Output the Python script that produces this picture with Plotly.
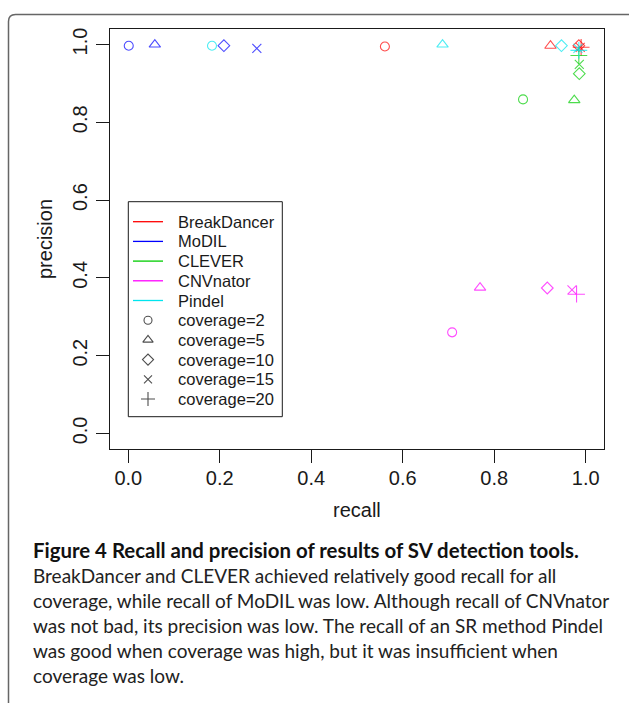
import plotly.graph_objects as go

# Precision/recall of five SV callers at five sequencing coverages
coverage = [2, 5, 10, 15, 20]
coverage_labels = ["coverage=2", "coverage=5", "coverage=10", "coverage=15", "coverage=20"]
tools = ["BreakDancer", "MoDIL", "CLEVER", "CNVnator", "Pindel"]

recall_breakdancer = [0.561, 0.923, 0.985, 0.988, 0.990]
precision_breakdancer = [0.995, 0.997, 0.997, 0.993, 0.993]

recall_modil = [0.001, 0.058, 0.209, 0.281, None]
precision_modil = [0.997, 1.000, 0.997, 0.990, None]

recall_clever = [0.863, 0.975, 0.986, 0.986, 0.985]
precision_clever = [0.859, 0.857, 0.925, 0.949, 0.972]

recall_cnvnator = [0.708, 0.769, 0.916, 0.970, 0.980]
precision_cnvnator = [0.260, 0.375, 0.374, 0.369, 0.358]

recall_pindel = [0.183, 0.687, 0.947, 0.983, 0.985]
precision_pindel = [0.997, 1.000, 0.997, 0.990, 0.985]

x_ticks = [0.0, 0.2, 0.4, 0.6, 0.8, 1.0]
y_ticks = [0.0, 0.2, 0.4, 0.6, 0.8, 1.0]
tick_text = ["0.0", "0.2", "0.4", "0.6", "0.8", "1.0"]

caption_title = "Figure 4 Recall and precision of results of SV detection tools."
caption_lines = [
    "BreakDancer and CLEVER achieved relatively good recall for all",
    "coverage, while recall of MoDIL was low. Although recall of CNVnator",
    "was not bad, its precision was low. The recall of an SR method Pindel",
    "was good when coverage was high, but it was insufficient when",
    "coverage was low.",
]

series = [
    (recall_breakdancer, precision_breakdancer),
    (recall_modil, precision_modil),
    (recall_clever, precision_clever),
    (recall_cnvnator, precision_cnvnator),
    (recall_pindel, precision_pindel),
]

tool_colors = ["#ff0000", "#0000ff", "#00cd00", "#ff00ff", "#00e5ee"]
coverage_symbols = ["circle-open", "triangle-up-open", "diamond-open", "x-thin-open", "cross-thin-open"]
coverage_sizes = [9, 10, 9, 9, 12]
key_sizes = [8, 9, 8.5, 8, 10]

W, H = 629, 703
M_L, M_R, M_T, M_B = 110, 25, 29, 254
PW, PH = W - M_L - M_R, H - M_T - M_B


def px_x(px):
    return (px - M_L) / PW


def px_y(py):
    return (H - M_B - py) / PH


AXIS_FONT = "Liberation Sans, Arial, sans-serif"
CAP_FONT = "Lato, Open Sans, sans-serif"
INK = "#1a1a1a"

fig = go.Figure()

for name, color, (rx, pr) in zip(tools, tool_colors, series):
    fig.add_trace(go.Scatter(
        x=rx, y=pr, mode="markers", name=name, showlegend=False,
        marker=dict(symbol=coverage_symbols, size=coverage_sizes, color=color,
                    line=dict(color=color, width=1.1)),
        hovertext=coverage_labels,
    ))

# key box in pixel space (overlay axes spanning the plot area)
KEY_L, KEY_R, KEY_T, KEY_B = 128.3, 282.3, 201.7, 416.7
KEY_ROW0, KEY_STEP = 221.7, 19.7
KEY_LINE = (133, 163)
KEY_TEXT_X = 176
rows = list(range(len(tools) + len(coverage_labels)))
row_y = [KEY_ROW0 + KEY_STEP * r for r in rows]

shapes = [dict(type="rect", xref="x2", yref="y2", x0=KEY_L, x1=KEY_R, y0=KEY_T, y1=KEY_B,
               line=dict(color=INK, width=1), fillcolor="white", layer="below")]
annotations = []
for i, (name, color) in enumerate(zip(tools, tool_colors)):
    shapes.append(dict(type="line", xref="x2", yref="y2", x0=KEY_LINE[0], x1=KEY_LINE[1],
                       y0=row_y[i], y1=row_y[i], line=dict(color=color, width=1.3)))
    annotations.append(dict(text=name, x=KEY_TEXT_X, y=row_y[i], xref="x2", yref="y2",
                            showarrow=False, xanchor="left", yanchor="middle",
                            font=dict(family=AXIS_FONT, size=16.5, color=INK)))
n = len(tools)
fig.add_trace(go.Scatter(
    x=[(KEY_LINE[0] + KEY_LINE[1]) / 2] * len(coverage_labels), y=row_y[n:],
    xaxis="x2", yaxis="y2", mode="markers", showlegend=False, hoverinfo="skip",
    marker=dict(symbol=coverage_symbols, size=key_sizes, color="black",
                line=dict(color="black", width=1.1)),
))
for j, label in enumerate(coverage_labels):
    annotations.append(dict(text=label, x=KEY_TEXT_X, y=row_y[n + j], xref="x2", yref="y2",
                            showarrow=False, xanchor="left", yanchor="middle",
                            font=dict(family=AXIS_FONT, size=16.5, color=INK)))

axis_common = dict(
    range=[-0.04, 1.04], showgrid=False, zeroline=False,
    showline=True, mirror=True, linecolor=INK, linewidth=1,
    ticks="outside", ticklen=13, tickwidth=1, tickcolor=INK,
    tickfont=dict(family=AXIS_FONT, size=20, color=INK),
    ticktext=tick_text,
)
fig.update_xaxes(tickvals=x_ticks, ticklabelstandoff=-2, **axis_common)
fig.update_yaxes(tickvals=y_ticks, tickangle=-90, ticklabelstandoff=1, **axis_common)

annotations += [
    dict(text="recall", x=0.5, y=px_y(510), xref="paper", yref="paper",
         showarrow=False, xanchor="center", yanchor="middle",
         font=dict(family=AXIS_FONT, size=20, color=INK)),
    dict(text="precision", x=px_x(45), y=0.5, xref="paper", yref="paper",
         showarrow=False, xanchor="center", yanchor="middle", textangle=-90,
         font=dict(family=AXIS_FONT, size=20, color=INK)),
    dict(text="<b>" + caption_title + "</b>", x=px_x(31), y=px_y(550),
         xref="paper", yref="paper", showarrow=False, xanchor="left", yanchor="middle",
         font=dict(family=CAP_FONT, size=20.4, color="#111")),
]
for i, line in enumerate(caption_lines):
    annotations.append(dict(
        text=line, x=px_x(31), y=px_y(575 + 25.2 * i), xref="paper", yref="paper",
        showarrow=False, xanchor="left", yanchor="middle",
        font=dict(family=CAP_FONT, size=19, color="#222")))

# rounded frame around the figure panel (top-left corner visible)
xl, yt = px_x(8.5), px_y(14.5)
xr, yb = px_x(660), px_y(740)
rx_, ry_ = 7 / PW, 7 / PH
frame_path = (f"M {xl},{yb} L {xl},{yt - ry_} Q {xl},{yt} {xl + rx_},{yt} L {xr},{yt}")
shapes.append(dict(type="path", path=frame_path, xref="paper", yref="paper",
                   line=dict(color="#666666", width=1.5), layer="above"))

fig.update_layout(
    width=W, height=H,
    margin=dict(l=M_L, r=M_R, t=M_T, b=M_B, pad=0),
    paper_bgcolor="white", plot_bgcolor="white",
    showlegend=False,
    xaxis2=dict(overlaying="x", range=[M_L, W - M_R], visible=False, fixedrange=True),
    yaxis2=dict(overlaying="y", range=[H - M_B, M_T], visible=False, fixedrange=True),
    annotations=annotations,
    shapes=shapes,
)

fig.write_html("out.html")
